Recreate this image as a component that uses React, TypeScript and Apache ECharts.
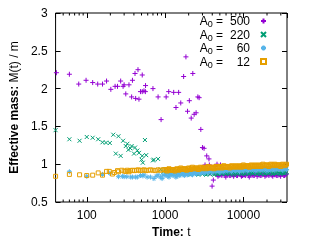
import React, { useEffect, useRef } from "react";
import * as echarts from "echarts";

const legendNames = ["A0 = 500", "A0 = 220", "A0 = 60", "A0 = 12"];
const legendValues = ["500", "220", "60", "12"];
const colors = ["#9400d3", "#009e73", "#56b4e9", "#e69f00"];

const xLabelTicks = [100, 1000, 10000];
const minorTicks = [50, 60, 70, 80, 90, 200, 300, 400, 500, 600, 700, 800, 900, 2000, 3000, 4000, 5000, 6000, 7000, 8000, 9000, 20000, 30000];

// early / transient points [t, M/m]
const purpleEarly: [number, number][] = [
  [41, 2.21], [60, 2.19], [79, 2.06], [98, 2.11], [119, 2.08], [138, 2.06], [159, 2.06], [179, 2.1], [203, 1.99],
  [230, 2.03], [247, 2.03], [271, 2.1], [291, 2.03], [300, 2.05], [315, 1.93], [346, 2.05], [374, 1.89], [383, 2.11],
  [413, 2.2], [421, 1.87], [451, 2.25], [464, 1.86], [485, 1.96], [511, 2.18], [511, 1.96], [537, 1.97], [560, 1.96],
  [563, 2.04], [700, 2.0], [814, 1.89], [889, 1.59], [1031, 1.89], [1113, 1.96], [1288, 1.95], [1377, 1.75], [1490, 1.95],
  [1585, 1.81], [1725, 2.16], [1845, 2.42], [1935, 1.7], [2040, 1.84], [2155, 1.61], [2259, 2.2], [2350, 1.66],
  [2488, 1.68], [2618, 1.89], [2720, 1.88], [2858, 1.46], [3000, 1.22], [3143, 1.21], [3235, 0.99], [3400, 1.11],
  [3632, 1.07], [3675, 0.99], [3750, 0.88], [3980, 0.71], [4130, 0.79], [4337, 0.97], [4600, 1.0], [5100, 0.99],
];
const greenEarly: [number, number][] = [
  [40, 1.45], [60, 1.33], [81, 1.31], [100, 1.36], [119, 1.35], [140, 1.33], [159, 1.29], [176, 1.285], [197, 1.28],
  [218, 1.39], [235, 1.14], [254, 1.37], [271, 1.11], [291, 1.31], [315, 1.24], [330, 1.27], [340, 1.19], [360, 1.21],
  [374, 1.24], [401, 1.14], [413, 1.22], [442, 1.18], [464, 1.15], [501, 1.06], [511, 1.11], [520, 1.02], [553, 1.32],
  [574, 1.12], [700, 1.05], [720, 1.06], [814, 1.07], [880, 0.93], [950, 0.9],
];
const cyanEarly: [number, number][] = [
  [60, 0.9], [100, 0.84], [159, 0.865], [197, 0.88], [254, 0.835], [285, 0.84], [300, 0.835], [324, 0.835], [364, 0.83],
  [383, 0.83], [421, 0.83], [442, 0.83], [485, 0.85], [521, 0.845], [537, 0.86], [590, 0.83], [650, 0.83], [720, 0.81],
  [768, 0.84], [814, 0.86], [870, 0.83], [915, 0.81], [933, 0.857],
];
const orangeEarly: [number, number][] = [
  [40, 0.84], [60, 0.865], [81, 0.86], [100, 0.85], [119, 0.855], [140, 0.885], [159, 0.855], [179, 0.905], [194, 0.905],
  [213, 0.87], [224, 0.89], [247, 0.915], [254, 0.9], [280, 0.92], [300, 0.91], [315, 0.905], [330, 0.92], [346, 0.9],
  [360, 0.915], [383, 0.92], [405, 0.915], [430, 0.92], [455, 0.925], [480, 0.915], [510, 0.92], [540, 0.925],
  [570, 0.915], [610, 0.92], [650, 0.925], [700, 0.92], [750, 0.915], [810, 0.925], [870, 0.92], [940, 0.925],
];

// late-time sampling times (two interleaved sets)
const tLateA = [
  1000, 1059, 1122, 1189, 1259, 1334, 1413, 1496, 1585, 1679, 1778, 1884, 1995, 2113, 2239, 2371, 2512, 2661, 2818,
  2985, 3162, 3350, 3548, 3758, 3981, 4217, 4467, 4732, 5012, 5309, 5623, 5957, 6310, 6683, 7079, 7499, 7943, 8414,
  8913, 9441, 10000, 10593, 11220, 11885, 12589, 13335, 14125, 14962, 15849, 16788, 17783, 18836, 19953, 21135, 22387,
  23714, 25119, 26607, 28184, 29854, 31623, 33497, 35481,
];
const tLateB = [
  1029, 1090, 1155, 1223, 1296, 1372, 1454, 1540, 1632, 1728, 1831, 1939, 2054, 2176, 2305, 2442, 2587, 2740, 2903,
  3075, 3258, 3451, 3656, 3873, 4102, 4345, 4603, 4876, 5166, 5472, 5797, 6141, 6505, 6891, 7300, 7733, 8192, 8678,
  9193, 9738, 10315, 10927, 11576, 12263, 12991, 13762, 14578, 15443, 16360, 17330, 18358, 19448, 20602, 21824, 23174,
  24491, 25942, 27483, 29113, 30840, 32670, 34608,
];
const purpleLateStart = 26;
const purpleLateA = [
  0.88, 0.84, 0.87, 0.85, 0.88, 0.83, 0.86, 0.85, 0.89, 0.84, 0.87, 0.85, 0.88, 0.84, 0.86, 0.85, 0.89, 0.83, 0.87,
  0.85, 0.88, 0.84, 0.86, 0.85, 0.89, 0.84, 0.87, 0.85, 0.88, 0.84, 0.86, 0.85, 0.89, 0.84, 0.87, 0.85, 0.87,
];
const purpleLateB = [
  0.86, 0.85, 0.86, 0.87, 0.85, 0.86, 0.87, 0.85, 0.86, 0.86, 0.85, 0.87, 0.86, 0.85, 0.86, 0.87, 0.85, 0.86,
  0.86, 0.85, 0.87, 0.86, 0.85, 0.86, 0.87, 0.85, 0.86, 0.86, 0.85, 0.87, 0.86, 0.85, 0.86, 0.87, 0.85, 0.86,
];
const greenLateA = [
  0.93, 0.89, 0.91, 0.88, 0.92, 0.89, 0.9, 0.87, 0.91, 0.88, 0.9, 0.87, 0.89, 0.86, 0.9, 0.87, 0.89, 0.86, 0.89, 0.87,
  0.89, 0.86, 0.9, 0.87, 0.89, 0.86, 0.9, 0.87, 0.89, 0.87, 0.9, 0.87, 0.89, 0.87, 0.9, 0.86, 0.89, 0.87, 0.9, 0.87,
  0.89, 0.87, 0.9, 0.87, 0.89, 0.88, 0.9, 0.87, 0.89, 0.87, 0.9, 0.87, 0.89, 0.88, 0.9, 0.87, 0.89, 0.88, 0.9, 0.87,
  0.89, 0.88, 0.9,
];
const greenLateB = [
  0.9, 0.92, 0.88, 0.9, 0.87, 0.91, 0.88, 0.9, 0.87, 0.89, 0.88, 0.9, 0.87, 0.89, 0.88, 0.9, 0.87, 0.88, 0.89, 0.88,
  0.87, 0.89, 0.88, 0.88, 0.9, 0.88, 0.87, 0.89, 0.88, 0.89, 0.88, 0.89, 0.88, 0.89, 0.88, 0.89, 0.88, 0.88, 0.89, 0.88,
  0.88, 0.89, 0.88, 0.89, 0.88, 0.89, 0.88, 0.89, 0.88, 0.89, 0.88, 0.89, 0.88, 0.89, 0.88, 0.89, 0.88, 0.89, 0.88, 0.89,
  0.88, 0.89,
];
const cyanLateA = [
  0.85, 0.88, 0.83, 0.87, 0.85, 0.89, 0.84, 0.88, 0.86, 0.9, 0.85, 0.89, 0.87, 0.91, 0.86, 0.9, 0.87, 0.91, 0.88, 0.92,
  0.88, 0.92, 0.89, 0.93, 0.89, 0.92, 0.9, 0.93, 0.89, 0.94, 0.9, 0.93, 0.91, 0.94, 0.9, 0.94, 0.91, 0.95, 0.9, 0.94,
  0.91, 0.95, 0.91, 0.94, 0.92, 0.95, 0.91, 0.96, 0.92, 0.95, 0.92, 0.96, 0.91, 0.95, 0.92, 0.96, 0.92, 0.96, 0.93, 0.96,
  0.92, 0.97, 0.93,
];
const cyanLateB = [
  0.87, 0.84, 0.86, 0.89, 0.86, 0.83, 0.87, 0.85, 0.88, 0.86, 0.88, 0.86, 0.89, 0.87, 0.89, 0.88, 0.9, 0.88, 0.9, 0.89,
  0.91, 0.9, 0.91, 0.9, 0.92, 0.91, 0.92, 0.91, 0.92, 0.91, 0.92, 0.92, 0.93, 0.92, 0.93, 0.92, 0.93, 0.92, 0.93, 0.93,
  0.94, 0.93, 0.94, 0.93, 0.94, 0.93, 0.94, 0.94, 0.94, 0.93, 0.95, 0.94, 0.94, 0.93, 0.95, 0.94, 0.95, 0.94, 0.95, 0.94,
  0.95, 0.95,
];
const orangeLateA = [
  0.93, 0.91, 0.94, 0.92, 0.93, 0.91, 0.94, 0.92, 0.95, 0.93, 0.94, 0.92, 0.95, 0.93, 0.96, 0.94, 0.95, 0.93, 0.96, 0.94,
  0.96, 0.94, 0.97, 0.95, 0.96, 0.94, 0.97, 0.95, 0.97, 0.95, 0.98, 0.96, 0.97, 0.95, 0.98, 0.96, 0.98, 0.96, 0.98, 0.96,
  0.99, 0.97, 0.98, 0.96, 0.99, 0.97, 0.99, 0.97, 0.99, 0.97, 1.0, 0.98, 0.99, 0.97, 1.0, 0.98, 1.0, 0.98, 0.99, 0.97,
  1.0, 0.98, 1.0,
];
const orangeLateB = [
  0.92, 0.93, 0.92, 0.93, 0.92, 0.93, 0.93, 0.94, 0.93, 0.94, 0.93, 0.94, 0.94, 0.95, 0.94, 0.95, 0.94, 0.95, 0.95, 0.95,
  0.95, 0.96, 0.95, 0.96, 0.95, 0.96, 0.96, 0.96, 0.96, 0.97, 0.96, 0.97, 0.96, 0.97, 0.97, 0.97, 0.97, 0.97, 0.97, 0.98,
  0.97, 0.98, 0.97, 0.98, 0.98, 0.98, 0.98, 0.98, 0.98, 0.99, 0.98, 0.99, 0.98, 0.99, 0.99, 0.99, 0.99, 0.99, 0.99, 0.99,
  0.99, 0.99,
];

const symbols = [
  "path://M0,3L6,3M3,0L3,6",
  "path://M0,0L6,6M0,6L6,0",
  "path://M0,3L6,3M3,0L3,6M1,1L5,5M1,5L5,1",
  "path://M0,0L6,0L6,6L0,6Z",
];
const symbolSizes = [5, 4, 5, 4];

const X_MIN = 40;
const X_MAX = 36000;
const Y_MIN = 0.5;
const Y_MAX = 3;

function pairs(ts: number[], vs: number[], start = 0) {
  return vs.map((v, i) => [ts[start + i], v]);
}

export default function App() {
  const ref = useRef<HTMLDivElement>(null);
  useEffect(() => {
    if (!ref.current) return;
    const chart = echarts.init(ref.current, null, { renderer: "svg" });
    const seriesData = [
      [...purpleEarly, ...pairs(tLateA, purpleLateA, purpleLateStart), ...pairs(tLateB, purpleLateB, purpleLateStart)],
      [...greenEarly, ...pairs(tLateA, greenLateA), ...pairs(tLateB, greenLateB)],
      [...cyanEarly, ...pairs(tLateA, cyanLateA), ...pairs(tLateB, cyanLateB)],
      [...orangeEarly, ...pairs(tLateA, orangeLateA), ...pairs(tLateB, orangeLateB)],
    ];
    const font = "Liberation Sans";
    const scatterSeries = legendNames.map((name, i) => ({
      type: "scatter",
      name,
      data: seriesData[i],
      symbol: symbols[i],
      symbolSize: symbolSizes[i],
      clip: false,
      itemStyle: { color: "rgba(0,0,0,0)", borderColor: colors[i], borderWidth: 1, opacity: 1 },
      emphasis: { disabled: true },
    }));
    const option: any = {
      animation: false,
      textStyle: { fontFamily: font },
      grid: { left: 53, right: 32, top: 13, bottom: 46, show: true, borderColor: "#000", borderWidth: 1 },
      legend: {
        data: legendNames,
        orient: "vertical",
        align: "right",
        right: 52,
        top: 15,
        padding: 0,
        itemGap: 0,
        itemWidth: 5,
        itemHeight: 5,
        formatter: (name: string) => {
          const i = legendNames.indexOf(name);
          return `{t|A}{s|0}{t| =}{n|${legendValues[i]}}`;
        },
        textStyle: {
          fontFamily: font,
          rich: {
            t: { fontFamily: font, fontSize: 12, color: "#000", lineHeight: 15 },
            s: { fontFamily: font, fontSize: 9, color: "#000", lineHeight: 8, verticalAlign: "bottom" },
            n: { fontFamily: font, fontSize: 12, color: "#000", lineHeight: 15, width: 27, align: "right", padding: [0, 6, 0, 0] },
          },
        },
      },
      xAxis: [
        {
          type: "log",
          logBase: 10,
          min: X_MIN,
          max: X_MAX,
          axisLine: { show: false },
          axisTick: { inside: true, length: 5, lineStyle: { color: "#000", width: 1 } },
          splitLine: { show: false },
          axisLabel: {
            color: "#000",
            fontSize: 12,
            fontFamily: font,
            margin: 7,
            showMinLabel: false,
            showMaxLabel: false,
            formatter: (v: number) => {
              const r = xLabelTicks.find((t) => Math.abs(t - v) / t < 1e-6);
              return r ? String(r) : "";
            },
          },
          name: "{b|Time:} t",
          nameLocation: "middle",
          nameGap: 24,
          nameTextStyle: {
            fontSize: 12,
            color: "#000",
            fontFamily: font,
            rich: { b: { fontWeight: "bold", fontSize: 12, color: "#000", fontFamily: font } },
          },
        },
        {
          type: "log",
          logBase: 10,
          position: "top",
          min: X_MIN,
          max: X_MAX,
          axisLine: { show: false },
          axisTick: { inside: true, length: 5, lineStyle: { color: "#000", width: 1 } },
          axisLabel: { show: false },
          splitLine: { show: false },
        },
      ],
      yAxis: [
        {
          type: "value",
          min: Y_MIN,
          max: Y_MAX,
          interval: 0.5,
          axisLine: { show: false },
          axisTick: { inside: true, length: 5, lineStyle: { color: "#000", width: 1 } },
          splitLine: { show: false },
          axisLabel: { color: "#000", fontSize: 12, fontFamily: font, margin: 8 },
          name: "{b|Effective mass:} M(t) / m",
          nameLocation: "middle",
          nameGap: 32,
          nameTextStyle: {
            fontSize: 12,
            color: "#000",
            fontFamily: font,
            rich: { b: { fontWeight: "bold", fontSize: 12, color: "#000", fontFamily: font } },
          },
        },
        {
          type: "value",
          position: "right",
          min: Y_MIN,
          max: Y_MAX,
          interval: 0.5,
          axisLine: { show: false },
          axisTick: { inside: true, length: 5, lineStyle: { color: "#000", width: 1 } },
          splitLine: { show: false },
          axisLabel: { show: false },
        },
      ],
      series: [
        {
          type: "custom",
          name: "minor",
          silent: true,
          data: minorTicks.map((t) => [t, Y_MIN]),
          renderItem: (params: any, api: any) => {
            const x = api.value(0);
            const b = api.coord([x, Y_MIN]);
            const tp = api.coord([x, Y_MAX]);
            const st = { stroke: "#000", lineWidth: 1 };
            return {
              type: "group",
              children: [
                { type: "line", shape: { x1: b[0], y1: b[1], x2: b[0], y2: b[1] - 2.5 }, style: st },
                { type: "line", shape: { x1: tp[0], y1: tp[1], x2: tp[0], y2: tp[1] + 2.5 }, style: st },
              ],
            };
          },
        },
        ...scatterSeries,
      ],
    };
    chart.setOption(option);
    return () => chart.dispose();
  }, []);
  return <div ref={ref} style={{ position: "fixed", left: 0, top: 0, width: 319, height: 248 }} />;
}
